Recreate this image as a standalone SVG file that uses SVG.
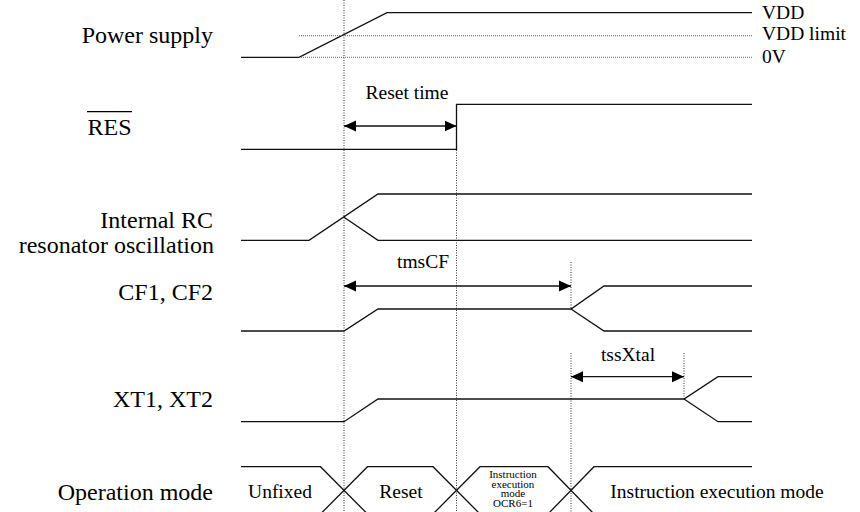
<svg xmlns="http://www.w3.org/2000/svg" width="860" height="512" viewBox="0 0 860 512" font-family="'Liberation Serif', 'DejaVu Serif', serif">
<defs>
<marker id="ah" viewBox="0 0 12 12" refX="12" refY="6" markerWidth="12" markerHeight="12" markerUnits="userSpaceOnUse" orient="auto-start-reverse">
<path d="M0,0.5 L12,6 L0,11.5 Z" fill="#000"/>
</marker>
</defs>
<style>
.sig{fill:none;stroke:#111;stroke-width:1.3}
.dot{fill:none;stroke:#333;stroke-width:1;stroke-dasharray:1 1.5}
.hdot{fill:none;stroke:#666;stroke-width:1;stroke-dasharray:1 1}
.arr{fill:none;stroke:#111;stroke-width:1.3;marker-start:url(#ah);marker-end:url(#ah)}
text{font-family:'Liberation Serif','DejaVu Serif',serif;fill:#000}
.lab{font-size:24px;text-anchor:end}
.mid{font-size:19.5px}
.c{text-anchor:middle}
.sm{font-size:11px;text-anchor:middle}
</style>
<rect width="860" height="512" fill="#fff"/>

<g id="guides">
<line class="dot" x1="344" y1="0" x2="344" y2="512"/>
<line class="dot" x1="456.5" y1="150" x2="456.5" y2="512"/>
<line class="dot" x1="571" y1="262" x2="571" y2="309"/>
<line class="dot" x1="571" y1="353" x2="571" y2="512"/>
<line class="dot" x1="684" y1="353" x2="684" y2="399"/>
</g>

<g id="power-supply">
<text class="lab" x="213" y="43">Power supply</text>
<polyline class="sig" points="241,57.3 299,57.3 387,12.7 752,12.7"/>
<line class="hdot" x1="299" y1="35.7" x2="752" y2="35.7"/>
<line class="hdot" x1="299" y1="57.3" x2="752" y2="57.3"/>
<text class="mid" x="762" y="18.5">VDD</text>
<text class="mid" x="762" y="39.5">VDD limit</text>
<text class="mid" x="762" y="63">0V</text>
</g>

<g id="res">
<text x="109.5" y="135" font-size="24" text-anchor="middle">RES</text>
<line x1="87" y1="111.7" x2="132" y2="111.7" stroke="#000" stroke-width="1.3"/>
<polyline class="sig" points="241,149.3 456.5,149.3 456.5,104.3 752,104.3"/>
</g>

<g id="internal-rc">
<text class="lab" x="213" y="228.3">Internal RC</text>
<text class="lab" x="214" y="253.3">resonator oscillation</text>
<polyline class="sig" points="241,240.3 309,240.3 378,194 752,194"/>
<polyline class="sig" points="344,217.3 378,240.3 752,240.3"/>
</g>

<g id="cf">
<text class="lab" x="213" y="300">CF1, CF2</text>
<polyline class="sig" points="241,331 344,331 378,309 571,309 604,286 752,286"/>
<polyline class="sig" points="571,309 604,331 752,331"/>
</g>

<g id="xt">
<text class="lab" x="213" y="406.7">XT1, XT2</text>
<polyline class="sig" points="241,421.7 344,421.7 378,399 684,399 718,376.7 752,376.7"/>
<polyline class="sig" points="684,399 718,421.7 752,421.7"/>
</g>

<g id="operation-mode">
<text class="lab" x="213" y="500">Operation mode</text>
<polyline class="sig" points="241,466.7 320.5,466.7 367.5,514"/>
<polyline class="sig" points="320.5,514 367.5,466.7 433,466.7 480,514"/>
<polyline class="sig" points="433,514 480,466.7 548,466.7 594,514"/>
<polyline class="sig" points="548,514 594,466.7 752,466.7"/>
<text class="mid c" x="280" y="498.3">Unfixed</text>
<text class="mid c" x="401" y="498.3">Reset</text>
<text class="sm" x="513" y="478.3">Instruction</text>
<text class="sm" x="513" y="487.7">execution</text>
<text class="sm" x="513" y="497.2">mode</text>
<text class="sm" x="513" y="506.6">OCR6=1</text>
<text class="mid c" x="717" y="498.3">Instruction execution mode</text>
</g>

<g id="connectors">
<line class="arr" x1="344" y1="126" x2="456.5" y2="126"/>
<line class="arr" x1="344" y1="286" x2="571" y2="286"/>
<line class="arr" x1="571" y1="376.7" x2="684" y2="376.7"/>
<text class="mid c" x="407" y="99">Reset time</text>
<text class="mid c" x="423" y="268">tmsCF</text>
<text class="mid c" x="628" y="361">tssXtal</text>
</g>
</svg>
